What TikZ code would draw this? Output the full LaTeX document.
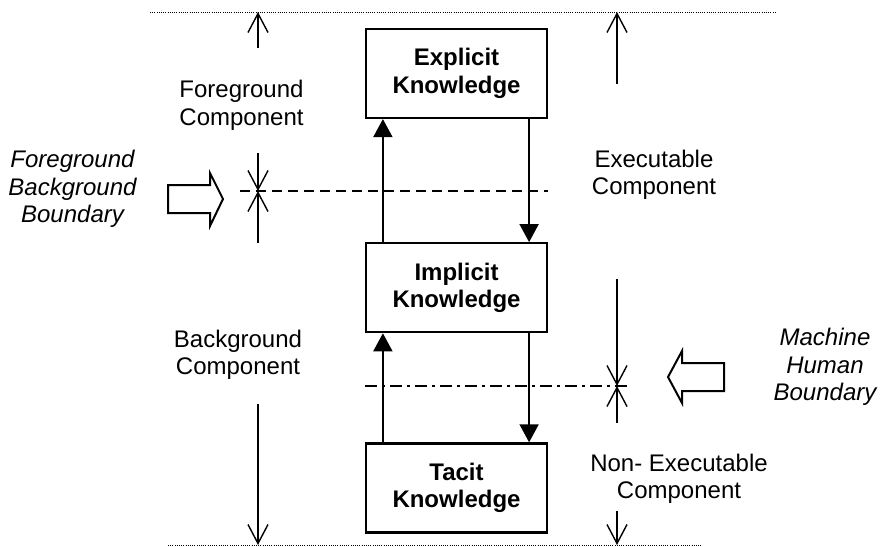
\documentclass[tikz,border=0pt]{standalone}
\usepackage{fontspec}
\setmainfont{Liberation Sans}
\usetikzlibrary{arrows.meta,positioning,calc}
\tikzset{
  kbox/.style={
    draw=black,
    line width=2.2pt,
    minimum width=181pt,
    minimum height=89pt,
    align=center,
    inner sep=0pt,
    font=\fontsize{24}{27.5}\selectfont\bfseries
  },
  lbl/.style={align=center, inner sep=0pt, font=\fontsize{24}{27.5}\selectfont},
  bnd/.style={align=center, inner sep=0pt, font=\fontsize{24}{27.5}\selectfont\itshape},
  flow/.style={-{Triangle[length=18pt,width=19pt]}, line width=1.8pt},
  dim/.style={-{Straight Barb[length=19pt,width=20pt]}, line width=1.4pt},
  fbline/.style={line width=1.4pt, dash pattern=on 10pt off 6pt},
  mhline/.style={line width=1.4pt, dash pattern=on 12pt off 5pt on 3pt off 5pt},
  edge/.style={line width=0.9pt, dash pattern=on 1pt off 1.2pt},
  hollow/.style={draw, line width=2pt, line join=miter}
}

\begin{document}
\begin{tikzpicture}[x=1pt,y=-1pt]
        \useasboundingbox (0,0) rectangle (883,546);
        % knowledge levels
        \node[kbox] (explicit) at (456.5,73.5) {Explicit\\Knowledge};
        \node[kbox, below=123pt of explicit] (implicit) {Implicit\\Knowledge};
        \node[kbox, below=109pt of implicit] (tacit) {Tacit\\Knowledge};
        \draw[flow] ([xshift=-19pt]explicit.south east) -- ([xshift=-19pt]implicit.north east);
        \draw[flow] ([xshift=18pt]implicit.north west) -- ([xshift=18pt]explicit.south west);
        \draw[flow] ([xshift=-19pt]implicit.south east) -- ([xshift=-19pt]tacit.north east);
        \draw[flow] ([xshift=18pt]tacit.north west) -- ([xshift=18pt]implicit.south west);
        % limits and boundaries
        \coordinate (topl) at (150,12);
        \coordinate (topr) at (777,12);
        \coordinate (botl) at (168,545);
        \coordinate (botr) at (702,545);
        \draw[edge] (topl) -- (topr);
        \draw[edge] (botl) -- (botr);
        \coordinate (fbl) at (240,191);
        \coordinate (mhr) at (630,386);
        \draw[fbline] (fbl) -- (fbl -| explicit.east);
        \draw[mhline] (mhr -| implicit.west) -- (mhr);
        \coordinate (fgx) at (258,191);
        \coordinate (mhx) at (617,386);
        \draw[dim] (258,48) -- (topl -| fgx);
        \draw[dim] (258,153) -- (fgx);
        \draw[dim] (258,243) -- (fgx);
        \draw[dim] (258,404) -- (botl -| fgx);
        \draw[dim] (617,84) -- (topl -| mhx);
        \draw[dim] (617,279) -- (mhx);
        \draw[dim] (617,423) -- (mhx);
        \draw[dim] (617,511) -- (botl -| mhx);
        \draw[hollow] (168,185) -- (210,185) -- (210,173) -- (223,199) -- (210,226) -- (210,213) -- (168,213) -- cycle;
        \draw[hollow] (724,363) -- (682,363) -- (682,351) -- (668,377) -- (682,403) -- (682,391) -- (724,391) -- cycle;
        % labels
        \node[lbl] (fgc) at (241.5,105.5) {Foreground\\Component};
        \node[lbl] (exc) at (654,175) {Executable\\Component};
        \node[lbl] (bgc) at (238,355) {Background\\Component};
        \node[lbl] (nec) at (679,479) {Non- Executable\\Component};
        \node[bnd] (fbb) at (72.5,189) {Foreground\\Background\\Boundary};
        \node[bnd] (mhb) at (825,367) {Machine\\Human\\Boundary};
      \end{tikzpicture}
\end{document}
